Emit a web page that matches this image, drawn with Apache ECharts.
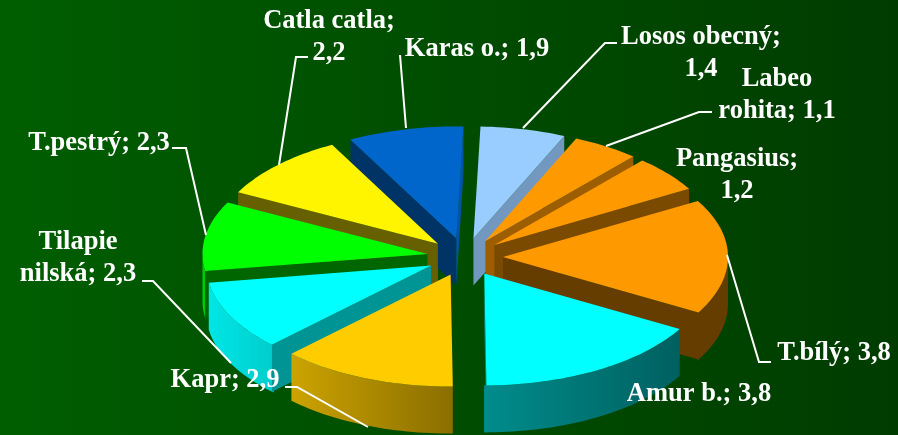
<!DOCTYPE html>
<html><head><meta charset="utf-8">
<style>html,body{margin:0;padding:0;background:#004800}#c{width:898px;height:435px}</style>
<script src="https://cdn.jsdelivr.net/npm/echarts@6/dist/echarts.min.js"></script>
</head><body><div id="c"></div>
<script>
const categories = ['Losos obecný','Labeo\nrohita','Pangasius','T.bílý','Amur b.','Kapr','Tilapie\nnilská','T.pestrý','Catla catla','Karas o.'];
const values = [1.4,1.1,1.2,3.8,3.8,2.9,2.3,2.3,2.2,1.9];
const separators = ['\n',' ','\n',' ',' ',' ',' ',' ','\n',' '];
const topColors = ['#99CCFF','#FF9900','#FF9900','#FF9900','#00FFFF','#FFCC00','#00FFFF','#00FF00','#FFF500','#0066CC'];
const wallColors = ['#7398BF','#9C5E00','#7A4A00','#663D00','#006666','#8C7000','#009494','#006600','#666000','#003366'];
const endSliver = ['#7398BF','#9C5E00','#7A4A00','#663D00','#008C8C','#8C7000','#009494','#006600','#666000','#0055AA'];
const rimLeft = ['#7398BF','#9C5E00','#7A4A00','#663D00','#008C8C','#CCA300','#00E6E6','#00CC00','#B0A800','#0055AA'];
const rimRight = ['#7398BF','#9C5E00','#7A4A00','#663D00','#006060','#8A6E00','#00CDCD','#00CC00','#B0A800','#0055AA'];
const labelAnchors = [[701,37],[777,79],[737,159],[834,353],[699,394],[225,380],[78,242],[99,143],[329,21],[477,49]];
const leaderLines = [
  [[617,43],[605,43],[523,128]],
  [[712,112],[699,112],[606,146]],
  [],
  [[771,362],[759,362],[727,255]],
  [],
  [[285,387],[297,387],[368,427]],
  [[142,281],[153,281],[231,363]],
  [[172,148],[186,148],[206,235]],
  [[308,57],[296,57],[279,165]],
  [[400,55],[406,128]]
];

const CX=465, CY=257, RX=225, RY=112, DEPTH=47, EXPLODE=38, START_DEG=1.8, LINE_H=32;
const total = values.reduce((a,b)=>a+b,0);
const spans = []; let acc = START_DEG;
values.forEach(v=>{const s=v/total*360; spans.push([acc,acc+s]); acc+=s;});
const rad = d=>d*Math.PI/180;
const midY = spans.map(s=>-Math.cos(rad((s[0]+s[1])/2)));
const order = midY.map((y,i)=>[y,i]).sort((a,b)=>a[0]-b[0]).map(p=>p[1]);

function renderItem(params){
  const i = params.dataIndex;
  const [a0,a1] = spans[i];
  const mid = rad((a0+a1)/2);
  const ax = CX+EXPLODE*Math.sin(mid), ay = CY-EXPLODE*Math.cos(mid)*0.5;
  const pt = (d,dy)=>[ax+RX*Math.sin(rad(d)), ay-RY*Math.cos(rad(d))+(dy||0)];
  const arc = [];
  const n = Math.max(8,Math.ceil((a1-a0)/1.5));
  for(let k=0;k<=n;k++) arc.push(pt(a0+(a1-a0)*k/n));
  const z = order.indexOf(i)*10;
  const kids = [];
  const poly = (points,fill,off)=>kids.push({type:'polygon',z2:z+off,shape:{points},style:{fill,stroke:null}});
  const startWall = Math.sin(rad(a0))<0, endWall = Math.sin(rad(a1))>0;
  const lo = Math.max(startWall?a0-0.6:a0,90), hi = Math.min(endWall?a1+0.6:a1,270);
  if(hi>lo){
    const rim=[]; const m=Math.ceil((hi-lo)/1.5);
    for(let k=0;k<=m;k++) rim.push(pt(lo+(hi-lo)*k/m));
    for(let k=m;k>=0;k--) rim.push(pt(lo+(hi-lo)*k/m,DEPTH));
    poly(rim,{type:'linear',x:0,y:0,x2:1,y2:0,colorStops:[{offset:0,color:rimLeft[i]},{offset:1,color:rimRight[i]}]},1);
  }
  const wall=d=>[[ax,ay],pt(d),pt(d,DEPTH),[ax,ay+DEPTH]];
  if(startWall) poly(wall(a0),wallColors[i],2);
  if(endWall) poly(wall(a1),endSliver[i],2);
  poly([[ax,ay],...arc],topColors[i],3);
  return {type:'group',children:kids};
}

const labelGraphics = categories.map((c,i)=>({
  type:'text', z:20,
  style:{text:c+';'+separators[i]+values[i].toFixed(1).replace('.',','),
    x:labelAnchors[i][0], y:labelAnchors[i][1]-LINE_H/2, align:'center', verticalAlign:'top',
    fill:'#fff', font:'bold 26.5px "Liberation Serif"', lineHeight:LINE_H}
}));
const lineGraphics = leaderLines.filter(l=>l.length).map(l=>({
  type:'polyline', z:15, shape:{points:l}, style:{stroke:'#fff',lineWidth:2,fill:null}
}));

const chart = echarts.init(document.getElementById('c'),null,{renderer:'canvas'});
chart.setOption({
  animation:false,
  backgroundColor:{type:'linear',x:0,y:0,x2:1,y2:0,colorStops:[{offset:0,color:'#005E00'},{offset:1,color:'#003C00'}]},
  series:[{type:'custom',coordinateSystem:'none',renderItem,data:values.map((v,i)=>[i,v]),silent:true}],
  graphic:{elements:[...lineGraphics,...labelGraphics]}
});
</script></body></html>
